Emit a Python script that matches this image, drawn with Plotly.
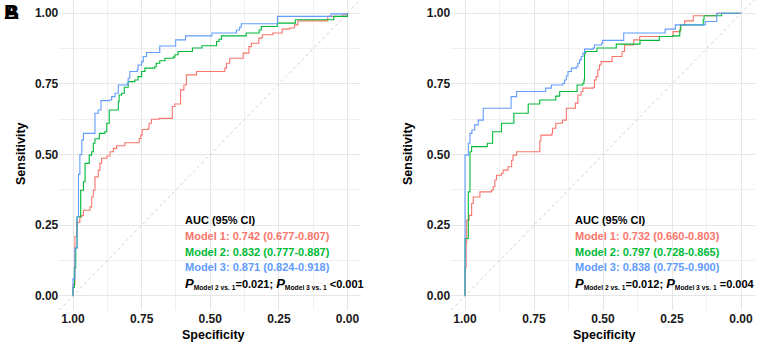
import plotly.graph_objects as go

# ---------------- data ----------------
# Left panel: ROC step vertices (specificity, sensitivity)
L_m1_spec = [1, 1, 0.993, 0.987, 0.975, 0.968, 0.962, 0.938, 0.932, 0.926, 0.92, 0.908, 0.902, 0.896,
             0.877, 0.865, 0.853, 0.841, 0.811, 0.759, 0.753, 0.748, 0.726, 0.723, 0.714, 0.686, 0.638,
             0.629, 0.608, 0.596, 0.587, 0.55, 0.447, 0.441, 0.429, 0.38, 0.359, 0.35, 0.323, 0.31,
             0.272, 0.238, 0.211, 0.193, 0.181, 0.072, 0.017, 0]
L_m1_sens = [0, 0.04, 0.21, 0.26, 0.279, 0.285, 0.303, 0.315, 0.35, 0.374, 0.421, 0.445, 0.469, 0.487,
             0.495, 0.51, 0.522, 0.531, 0.542, 0.557, 0.569, 0.589, 0.593, 0.611, 0.625, 0.628, 0.67,
             0.679, 0.729, 0.746, 0.782, 0.794, 0.806, 0.823, 0.841, 0.859, 0.882, 0.894, 0.912, 0.924,
             0.93, 0.944, 0.948, 0.959, 0.973, 0.989, 0.995, 1.0]

L_m2_spec = [1, 1, 0.995, 0.99, 0.985, 0.972, 0.962, 0.956, 0.941, 0.932, 0.926, 0.92, 0.904, 0.884,
             0.877, 0.868, 0.835, 0.832, 0.823, 0.813, 0.799, 0.775, 0.763, 0.75, 0.738, 0.702, 0.697,
             0.684, 0.665, 0.635, 0.629, 0.617, 0.565, 0.53, 0.477, 0.468, 0.459, 0.369, 0.322, 0.314,
             0.256, 0.19, 0.05, 0]
L_m2_sens = [0, 0.03, 0.10, 0.17, 0.28, 0.374, 0.404, 0.469, 0.498, 0.51, 0.54, 0.556, 0.575, 0.581,
             0.611, 0.658, 0.687, 0.711, 0.717, 0.738, 0.758, 0.764, 0.776, 0.794, 0.806, 0.811, 0.823,
             0.832, 0.841, 0.845, 0.853, 0.865, 0.877, 0.885, 0.9, 0.908, 0.92, 0.93, 0.941, 0.953,
             0.965, 0.977, 0.989, 1.0]

L_m3_spec = [1, 1, 0.993, 0.985, 0.98, 0.975, 0.968, 0.962, 0.92, 0.908, 0.898, 0.868, 0.859, 0.847,
             0.835, 0.803, 0.799, 0.793, 0.766, 0.763, 0.75, 0.744, 0.732, 0.684, 0.626, 0.59, 0.494,
             0.405, 0.393, 0.387, 0.255, 0.06, 0]
L_m3_sens = [0, 0.06, 0.17, 0.28, 0.43, 0.50, 0.551, 0.575, 0.646, 0.658, 0.691, 0.693, 0.705, 0.717,
             0.746, 0.75, 0.77, 0.794, 0.80, 0.817, 0.829, 0.847, 0.861, 0.884, 0.906, 0.92, 0.93,
             0.941, 0.951, 0.963, 0.989, 0.998, 1.0]

# Right panel
R_m1_spec = [1, 1, 0.996, 0.994, 0.985, 0.976, 0.97, 0.946, 0.904, 0.898, 0.892, 0.886, 0.868, 0.862,
             0.844, 0.831, 0.826, 0.813, 0.729, 0.725, 0.685, 0.683, 0.671, 0.649, 0.647, 0.633, 0.60,
             0.591, 0.579, 0.573, 0.535, 0.531, 0.525, 0.519, 0.513, 0.507, 0.467, 0.431, 0.422, 0.389,
             0.367, 0.246, 0.22, 0.204, 0.173, 0.088, 0]
R_m1_sens = [0, 0.10, 0.185, 0.268, 0.285, 0.327, 0.35, 0.368, 0.374, 0.386, 0.41, 0.427, 0.433, 0.445,
             0.457, 0.48, 0.498, 0.51, 0.548, 0.569, 0.575, 0.593, 0.611, 0.613, 0.622, 0.664, 0.682,
             0.711, 0.723, 0.735, 0.738, 0.764, 0.776, 0.80, 0.817, 0.829, 0.847, 0.865, 0.888, 0.906,
             0.918, 0.935, 0.959, 0.973, 0.991, 1.0, 1.0]

R_m2_spec = [1, 1, 0.988, 0.982, 0.976, 0.919, 0.9, 0.868, 0.823, 0.771, 0.729, 0.671, 0.657, 0.594,
             0.573, 0.569, 0.567, 0.563, 0.522, 0.452, 0.366, 0.296, 0.248, 0.222, 0.218, 0.137, 0.134,
             0.07, 0]
R_m2_sens = [0, 0.203, 0.368, 0.51, 0.528, 0.54, 0.581, 0.611, 0.646, 0.679, 0.693, 0.707, 0.723, 0.746,
             0.752, 0.764, 0.859, 0.865, 0.877, 0.891, 0.904, 0.918, 0.92, 0.941, 0.959, 0.977, 0.991,
             1.0, 1.0]

R_m3_spec = [1, 1, 0.988, 0.982, 0.975, 0.965, 0.952, 0.934, 0.833, 0.813, 0.708, 0.687, 0.645, 0.639,
             0.633, 0.627, 0.615, 0.597, 0.591, 0.585, 0.579, 0.573, 0.567, 0.535, 0.531, 0.505, 0.501,
             0.425, 0.275, 0.238, 0.13, 0.088, 0]
R_m3_sens = [0, 0.498, 0.54, 0.575, 0.587, 0.605, 0.622, 0.664, 0.705, 0.723, 0.735, 0.746, 0.752, 0.764,
             0.778, 0.794, 0.806, 0.811, 0.823, 0.835, 0.847, 0.859, 0.873, 0.877, 0.888, 0.894, 0.904,
             0.93, 0.944, 0.959, 0.971, 1.0, 1.0]

model_names = ["Model 1", "Model 2", "Model 3"]
colors = ["#F8766D", "#00BA38", "#619CFF"]
left_auc = ["0.742 (0.677-0.807)", "0.832 (0.777-0.887)", "0.871 (0.824-0.918)"]
right_auc = ["0.732 (0.660-0.803)", "0.797 (0.728-0.865)", "0.838 (0.775-0.900)"]
left_p = ["=0.021", "<0.001"]
right_p = ["=0.012", "=0.004"]
tick_vals = [0, 0.25, 0.5, 0.75, 1.0]
tick_text = ["0.00", "0.25", "0.50", "0.75", "1.00"]
diag_x = [1.05, -0.05]
diag_y = [-0.05, 1.05]

FONT = "Liberation Sans, Arial, sans-serif"

fig = go.Figure()

panels = [
    ("x", "y", [(L_m1_spec, L_m1_sens), (L_m2_spec, L_m2_sens), (L_m3_spec, L_m3_sens)]),
    ("x2", "y2", [(R_m1_spec, R_m1_sens), (R_m2_spec, R_m2_sens), (R_m3_spec, R_m3_sens)]),
]
for xa, ya, curves in panels:
    fig.add_trace(go.Scatter(x=diag_x, y=diag_y, mode="lines", xaxis=xa, yaxis=ya,
                             line=dict(color="#d0d0d0", width=1, dash="3px,3px"),
                             showlegend=False, hoverinfo="skip"))
    for (sx, sy), c in zip(curves, colors):
        fig.add_trace(go.Scatter(x=sx, y=sy, mode="lines", xaxis=xa, yaxis=ya,
                                 line=dict(color=c, width=1.1, shape="hv"),
                                 showlegend=False))

axis_common = dict(
    tickvals=tick_vals, ticktext=tick_text, showline=False, zeroline=False, ticks="",
    automargin=False,
    showgrid=True, gridcolor="#e6e6e6", gridwidth=1,
    minor=dict(dtick=0.125, tick0=0.125, showgrid=True, gridcolor="#f0f0f0", gridwidth=1),
    tickfont=dict(family=FONT, size=12, color="#1a1a1a", weight="bold"),
)
xrange = [1.05, -0.05]
yrange = [-0.05, 1.047]
fig.update_layout(
    width=760, height=344,
    margin=dict(l=0, r=0, t=0, b=34),
    paper_bgcolor="white", plot_bgcolor="white",
    xaxis=dict(domain=[0.0780, 0.4753], range=xrange, anchor="y", **axis_common),
    yaxis=dict(domain=[0, 1], range=yrange, anchor="x", **axis_common),
    xaxis2=dict(domain=[0.5937, 0.9932], range=xrange, anchor="y2", **axis_common),
    yaxis2=dict(domain=[0, 1], range=yrange, anchor="x2", **axis_common),
)

# annotations
ann = []
# panel label (overlapping A/B)
for lab in ["A", "B"]:
    ann.append(dict(x=11 / 760, y=1 - 12 / 310, xref="paper", yref="paper", text="<b>%s</b>" % lab,
                    showarrow=False, xanchor="center", yanchor="middle",
                    font=dict(family=FONT, size=21, color="black")))

for xa, ya, xt_px, yt_px, xleft, aucs, ps in [
    ("x", "y", 213, 21, 0.599, left_auc, left_p),
    ("x2", "y2", 604, 408, 0.609, right_auc, right_p),
]:
    ann.append(dict(x=xt_px / 760, y=-25 / 310, xref="paper", yref="paper", text="<b>Specificity</b>",
                    showarrow=False, xanchor="center", yanchor="middle",
                    font=dict(family=FONT, size=12.5, color="black")))
    ann.append(dict(x=yt_px / 760, y=1 - 154 / 310, xref="paper", yref="paper", text="<b>Sensitivity</b>",
                    showarrow=False, xanchor="center", yanchor="middle", textangle=-90,
                    font=dict(family=FONT, size=12.5, color="black")))
    ys = [0.2686, 0.2125, 0.1566, 0.1007, 0.0448]
    ann.append(dict(x=xleft, y=ys[0], xref=xa, yref=ya, text="<b>AUC (95% CI)</b>", showarrow=False,
                    xanchor="left", yanchor="middle", font=dict(family=FONT, size=11, color="black")))
    for i in range(3):
        ann.append(dict(x=xleft, y=ys[i + 1], xref=xa, yref=ya,
                        text="<b>%s: %s</b>" % (model_names[i], aucs[i]), showarrow=False,
                        xanchor="left", yanchor="middle", font=dict(family=FONT, size=11, color=colors[i])))
    ptxt = ("<b><span style='font-size:13px'><i>P</i></span><span style='font-size:9.6px'><sub>Model 2 vs. 1</sub></span>"
            "%s; <span style='font-size:13px'><i>P</i></span><span style='font-size:9.6px'><sub>Model 3 vs. 1</sub></span> %s</b>"
            % (ps[0], ps[1]))
    ann.append(dict(x=xleft, y=ys[4], xref=xa, yref=ya, text=ptxt, showarrow=False,
                    xanchor="left", yanchor="middle", font=dict(family=FONT, size=11, color="black")))

fig.update_layout(annotations=ann)
fig.write_html("out.html", config={"displayModeBar": False},
               post_script="document.body.style.margin='0';document.body.style.overflow='hidden';")
